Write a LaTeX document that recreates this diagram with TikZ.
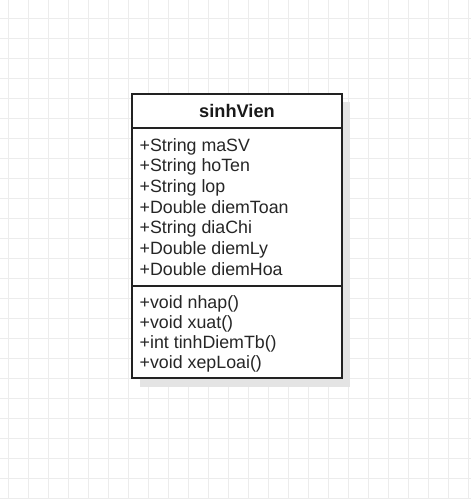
\documentclass[tikz,border=0pt]{standalone}
\usepackage{fontspec}
\setmainfont{Liberation Sans}
\definecolor{gridcol}{RGB}{236,236,236}
\definecolor{shadowcol}{RGB}{228,228,228}
\definecolor{bordercol}{RGB}{34,34,34}
\begin{document}
\begin{tikzpicture}[x=1pt,y=-1pt,
  gridline/.style={draw=gridcol,line width=0.9pt},
  compartment/.style={draw=bordercol,fill=white,line width=1.2pt,minimum width=210pt,inner sep=0pt,outer sep=0pt,anchor=north west},
  member/.style={anchor=base west,inner sep=0pt,font=\fontsize{17.8}{20.3}\selectfont,text=black!85},
  title/.style={anchor=base,inner sep=0pt,font=\fontsize{18.2}{20.3}\selectfont\bfseries,text=black!90}]
\useasboundingbox (0,0) rectangle (471,499);
\fill[white] (0,0) rectangle (471,499);
\foreach \x in {8,28,...,468} \draw[gridline] (\x,0) -- (\x,499);
\foreach \y in {18,38,...,498} \draw[gridline] (0,\y) -- (471,\y);
% shadow
\fill[shadowcol] (140,102) rectangle (350,387);
% compartments
\node[compartment,minimum height=34pt] (head) at (132,94) {};
\node[compartment,minimum height=158pt] (attrs) at (132,128) {};
\node[compartment,minimum height=92pt] (meths) at (132,286) {};
\node[title] (name) at (237,117.7) {sinhVien};
\node[member] (a1) at (139.5,151.0) {+String maSV};
\node[member] (a2) at (139.5,171.7) {+String hoTen};
\node[member] (a3) at (139.5,192.4) {+String lop};
\node[member] (a4) at (139.5,213.1) {+Double diemToan};
\node[member] (a5) at (139.5,233.8) {+String diaChi};
\node[member] (a6) at (139.5,254.5) {+Double diemLy};
\node[member] (a7) at (139.5,275.2) {+Double diemHoa};
\node[member] (m1) at (139.5,308.0) {+void nhap()};
\node[member] (m2) at (139.5,328.0) {+void xuat()};
\node[member] (m3) at (139.5,348.0) {+int tinhDiemTb()};
\node[member] (m4) at (139.5,368.0) {+void xepLoai()};
\end{tikzpicture}
\end{document}
